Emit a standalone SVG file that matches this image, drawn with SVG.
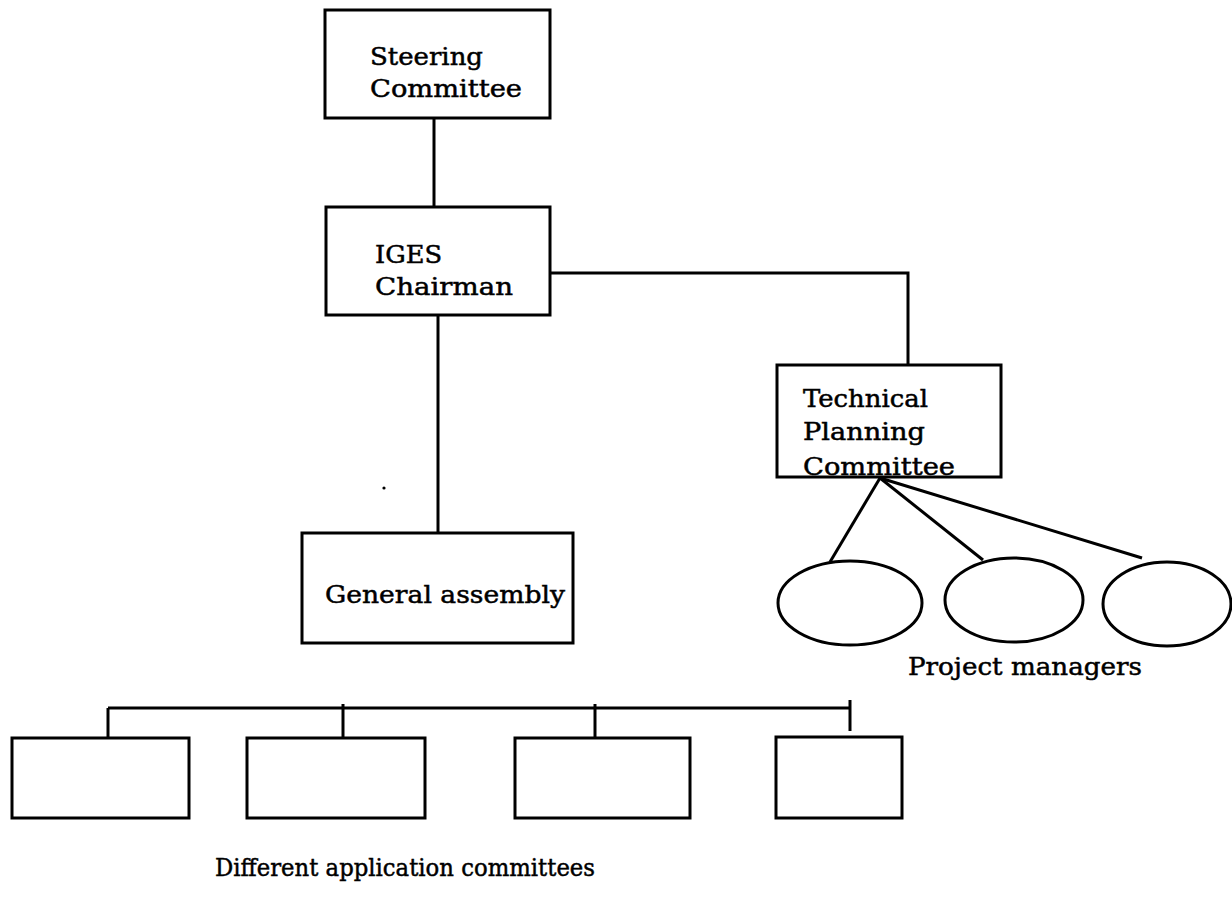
<svg xmlns="http://www.w3.org/2000/svg" width="1232" height="913" viewBox="0 0 1232 913">
  <style>
    .box { fill: #fff; stroke: #000; stroke-width: 3; }
    .pm { fill: none; stroke: #000; stroke-width: 3; }
    .link { fill: none; stroke: #000; stroke-width: 3; }
    .lbl { font-family: "DejaVu Serif", "Liberation Serif", serif; font-size: 25px; fill: #000; stroke: #000; stroke-width: 0.5; }
  </style>
  <rect width="1232" height="913" fill="#fff"/>

  <!-- connectors -->
  <g id="connectors">
    <line class="link" x1="434" y1="118" x2="434" y2="207"/>
    <line class="link" x1="438" y1="315" x2="438" y2="533"/>
    <polyline class="link" points="550,273 908,273 908,365"/>
    <line class="link" x1="880" y1="478" x2="830" y2="562"/>
    <line class="link" x1="880" y1="478" x2="983" y2="560"/>
    <line class="link" x1="880" y1="478" x2="1142" y2="558"/>
    <line class="link" x1="108" y1="708" x2="850" y2="708"/>
    <line class="link" x1="108" y1="708" x2="108" y2="738"/>
    <line class="link" x1="343" y1="704" x2="343" y2="738"/>
    <line class="link" x1="595" y1="704" x2="595" y2="738"/>
    <line class="link" x1="850" y1="700" x2="850" y2="731"/>
  </g>

  <g id="steering">
    <rect class="box" x="325" y="10" width="225" height="108"/>
    <text class="lbl" x="370" y="65" textLength="113" lengthAdjust="spacingAndGlyphs">Steering</text>
    <text class="lbl" x="370" y="97" textLength="152" lengthAdjust="spacingAndGlyphs">Committee</text>
  </g>

  <g id="chairman">
    <rect class="box" x="326" y="207" width="224" height="108"/>
    <text class="lbl" x="375" y="263" textLength="67" lengthAdjust="spacingAndGlyphs">IGES</text>
    <text class="lbl" x="375" y="295" textLength="138" lengthAdjust="spacingAndGlyphs">Chairman</text>
  </g>

  <g id="technical">
    <rect class="box" x="777" y="365" width="224" height="112"/>
    <text class="lbl" x="803" y="407" textLength="125" lengthAdjust="spacingAndGlyphs">Technical</text>
    <text class="lbl" x="803" y="440" textLength="122" lengthAdjust="spacingAndGlyphs">Planning</text>
    <text class="lbl" x="803" y="475" textLength="152" lengthAdjust="spacingAndGlyphs">Committee</text>
  </g>

  <g id="assembly">
    <rect class="box" x="302" y="533" width="271" height="110"/>
    <text class="lbl" x="325" y="603" textLength="240" lengthAdjust="spacingAndGlyphs">General assembly</text>
  </g>

  <g id="managers">
    <ellipse class="pm" cx="850" cy="603" rx="72" ry="42"/>
    <ellipse class="pm" cx="1014" cy="600" rx="69" ry="42"/>
    <ellipse class="pm" cx="1167" cy="604" rx="64" ry="42"/>
    <text class="lbl" x="908" y="675" textLength="234" lengthAdjust="spacingAndGlyphs">Project managers</text>
  </g>

  <g id="committees">
    <rect class="box" x="12" y="738" width="177" height="80"/>
    <rect class="box" x="247" y="738" width="178" height="80"/>
    <rect class="box" x="515" y="738" width="175" height="80"/>
    <rect class="box" x="776" y="737" width="126" height="81"/>
    <text class="lbl" x="215" y="876" textLength="380" lengthAdjust="spacingAndGlyphs">Different application committees</text>
  </g>

  <!-- small stray mark -->
  <circle cx="384" cy="488" r="1.6" fill="#000"/>
</svg>
